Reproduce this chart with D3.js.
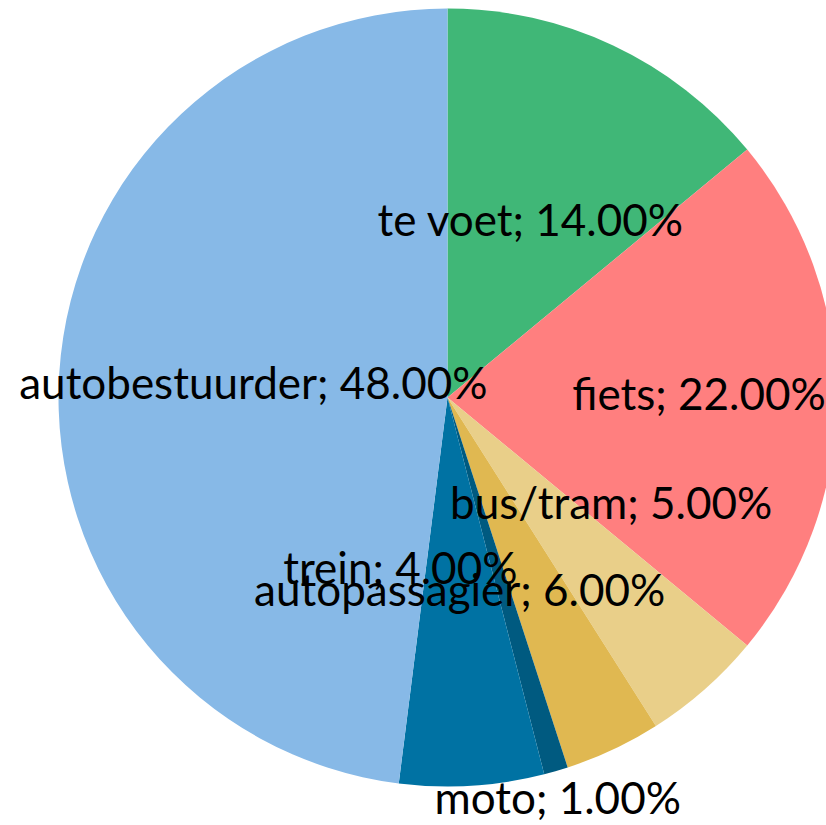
<!DOCTYPE html>
<html>
<head>
<meta charset="utf-8">
<script src="https://cdn.jsdelivr.net/npm/d3@7"></script>
<style>
  html, body { margin: 0; padding: 0; background: #fff; }
  svg { display: block; }
</style>
</head>
<body>
<div id="chart"></div>
<script>
const categories = ["te voet", "fiets", "bus/tram", "trein", "moto", "autopassagier", "autobestuurder"];
const shares = [14, 22, 5, 4, 1, 6, 48];
const colors = ["#40b777", "#ff7f7f", "#e9cf89", "#e0b851", "#005a80", "#0072a3", "#87b9e7"];

// label nudges (px) for the labels that were shifted off the centroid
const labelNudge = {
  "fiets": [57, -2],
  "bus/tram": [35, -38],
  "trein": [-130, -3],
  "moto": [56, 216]
};

const width = 826, height = 825,
    cx = 447.5, cy = 397.5,
    radius = 389;

const data = categories.map((c, i) => ({ name: c, value: shares[i], color: colors[i] }));

const svg = d3.select("#chart").append("svg")
    .attr("width", width)
    .attr("height", height);

const g = svg.append("g").attr("transform", `translate(${cx},${cy})`);

const pie = d3.pie().sort(null).value(d => d.value);
const arc = d3.arc().innerRadius(0).outerRadius(radius);

const arcs = pie(data);

g.selectAll("path")
  .data(arcs)
  .join("path")
    .attr("d", arc)
    .attr("fill", d => d.data.color);

const total = d3.sum(shares);

g.selectAll("text")
  .data(arcs)
  .join("text")
    .attr("transform", d => {
      const [x, y] = arc.centroid(d);
      const [dx, dy] = labelNudge[d.data.name] || [0, 0];
      return `translate(${x + dx},${y + dy - 3})`;
    })
    .attr("text-anchor", "middle")
    .attr("dominant-baseline", "central")
    .style("font-family", "Lato, sans-serif")
    .style("font-size", "44px")
    .attr("fill", "#000")
    .text(d => `${d.data.name}; ${(d.data.value / total * 100).toFixed(2)}%`);
</script>
</body>
</html>
